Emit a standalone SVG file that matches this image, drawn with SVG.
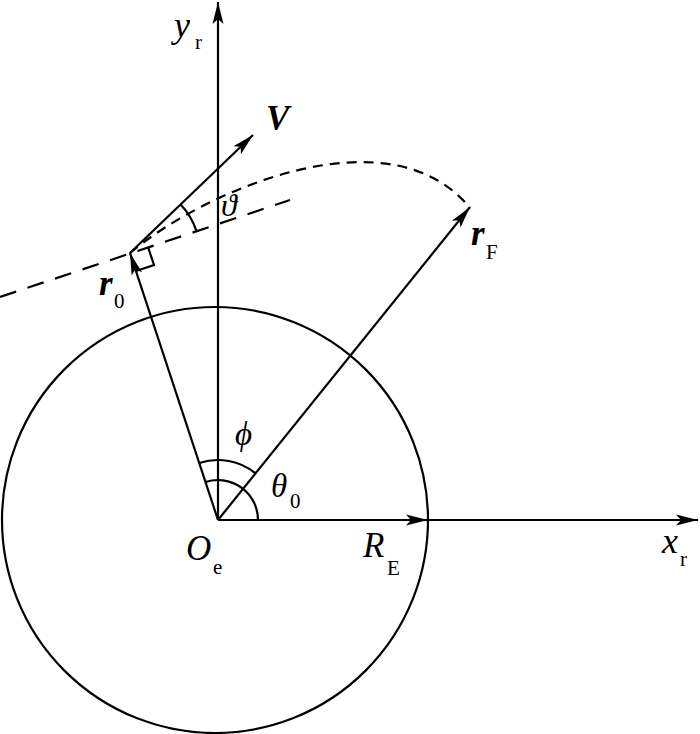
<svg xmlns="http://www.w3.org/2000/svg" width="700" height="734" viewBox="0 0 700 734">
<style>
.ln{stroke:#000;stroke-width:2.2;fill:none}
.t{font-family:"Liberation Serif","Times New Roman",serif;font-style:italic;fill:#000}
.b{font-weight:bold}
.s{font-family:"Liberation Serif","Times New Roman",serif;font-style:normal;font-size:21px;fill:#000}
</style>
<defs>
<marker id="ah" markerUnits="userSpaceOnUse" markerWidth="24" markerHeight="14" refX="22" refY="7" orient="auto">
<path d="M0,1.5 L22,7 L0,12.5 L5,7 Z" fill="#000"/>
</marker>
</defs>
<rect width="700" height="734" fill="#fff"/>
<g id="earth"><circle class="ln" cx="215" cy="520" r="213"/></g>
<g id="connectors">
<line id="y-axis" class="ln" x1="218" y1="520" x2="218" y2="2" marker-end="url(#ah)"/>
<line id="x-axis" class="ln" x1="218" y1="520" x2="698" y2="520" marker-end="url(#ah)"/>
<line id="RE-vec" class="ln" x1="218" y1="520" x2="428" y2="520" marker-end="url(#ah)"/>
<line id="r0-vec" class="ln" x1="218" y1="520" x2="130" y2="253" marker-end="url(#ah)"/>
<line id="rF-vec" class="ln" x1="218" y1="520" x2="470" y2="207" marker-end="url(#ah)"/>
<line id="V-vec" class="ln" x1="130" y1="253" x2="253" y2="135" marker-end="url(#ah)"/>
<line id="local-horizon" class="ln" x1="0" y1="297" x2="290" y2="200" stroke-dasharray="17 12"/>
<path id="trajectory" class="ln" d="M130,253 C205,190 390,110 470,208" stroke-dasharray="10 7"/>
<path id="right-angle" class="ln" d="M148,247 L154,265 L136,271"/>
<path id="arc-theta-flight" class="ln" d="M180.6,204.4 A70,70 0 0 1 196.5,231.1"/>
<path id="arc-phi" class="ln" d="M199.2,463 A60,60 0 0 1 255.6,473.3"/>
<path id="arc-theta0" class="ln" d="M205.5,482 A40,40 0 0 1 258,520"/>
</g>
<g id="label-yr"><text class="t" x="174" y="37" font-size="36">y</text><text class="s" x="195" y="49">r</text></g>
<g id="label-xr"><text class="t" x="662" y="553" font-size="36">x</text><text class="s" x="680" y="566">r</text></g>
<g id="label-V"><text class="t b" x="266" y="130" font-size="35">V</text></g>
<g id="label-theta"><text class="t" x="221" y="216" font-size="32">ϑ</text></g>
<g id="label-r0"><text class="t b" x="99" y="295" font-size="35">r</text><text class="s" x="114" y="308">0</text></g>
<g id="label-rF"><text class="t b" x="471" y="245" font-size="35">r</text><text class="s" x="486" y="259">F</text></g>
<g id="label-phi"><text class="t" x="235" y="445" font-size="33">ϕ</text></g>
<g id="label-theta0"><text class="t" x="271" y="497" font-size="33">θ</text><text class="s" x="290" y="508">0</text></g>
<g id="label-Oe"><text class="t" x="186" y="560" font-size="35">O</text><text class="s" x="213" y="574">e</text></g>
<g id="label-RE"><text class="t" x="363" y="557" font-size="35">R</text><text class="s" x="387" y="575">E</text></g>
</svg>
